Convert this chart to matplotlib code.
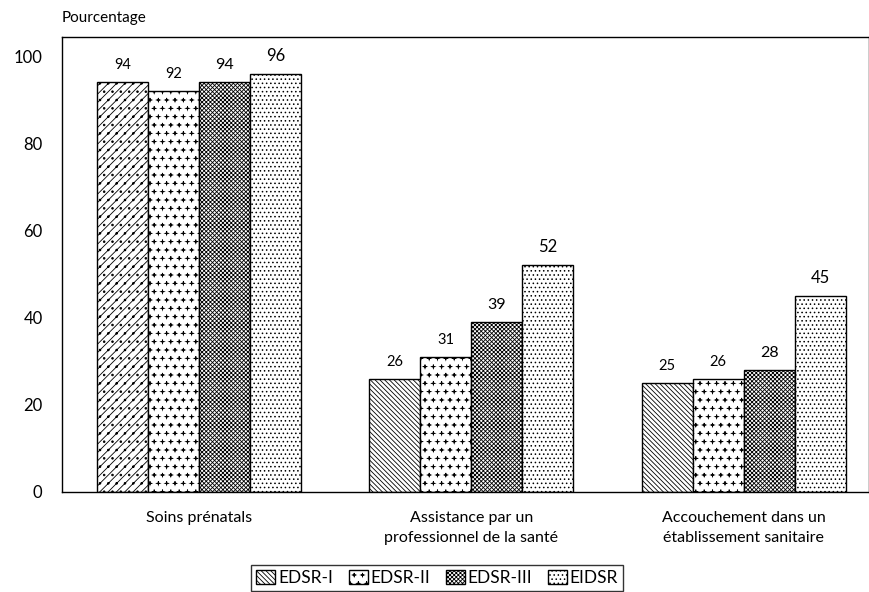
import matplotlib
matplotlib.use('Agg')
import matplotlib.pyplot as plt
import matplotlib.hatch as mhatch
from matplotlib.path import Path
import numpy as np

# Data
categories = ['Soins prénatals',
              'Assistance par un\nprofessionnel de la santé',
              'Accouchement dans un\nétablissement sanitaire']
series = ['EDSR-I', 'EDSR-II', 'EDSR-III', 'EIDSR']
edsr1 = [94, 26, 25]
edsr2 = [92, 31, 26]
edsr3 = [94, 39, 28]
eidsr = [96, 52, 45]
values = [edsr1, edsr2, edsr3, eidsr]


# small four-point crosses instead of the default big stars for '*'
class SmallCross(mhatch.Stars):
    size = 0.2

    def __init__(self, hatch, density):
        self.num_rows = hatch.count('*') * density
        path = Path.unit_regular_star(4, innerCircle=0.3)
        self.shape_vertices = path.vertices
        self.shape_codes = np.full(len(self.shape_vertices), Path.LINETO,
                                   dtype=Path.code_type)
        self.shape_codes[0] = Path.MOVETO
        mhatch.Shapes.__init__(self, hatch, density)


mhatch._hatch_types[mhatch._hatch_types.index(mhatch.Stars)] = SmallCross

plt.rcParams['font.family'] = ['Lato', 'DejaVu Sans']
plt.rcParams['hatch.linewidth'] = 0.6
plt.rcParams['hatch.color'] = 'black'

fig = plt.figure(figsize=(8.69, 5.92), dpi=100)
ax = fig.add_axes([62/869, 100/592, 1 - 62/869, (492 - 37)/592])

x = np.arange(len(categories))
width = 0.187
hatches = ['\\' * 7, '**', 'x' * 8, '....']
label_sizes = [10.5, 10.5, 11.5, 12]

bars = []
for i, (name, vals) in enumerate(zip(series, values)):
    pos = x + (i - 1.5) * width
    b = ax.bar(pos, vals, width, color='white', edgecolor='black',
               linewidth=1, hatch=hatches[i], label=name)
    bars.append(b)
    for p, v in zip(pos, vals):
        ax.text(p, v + 2.3, str(v), ha='center', va='bottom',
                fontsize=label_sizes[i])

# first group EDSR-I uses a different fill
bars[0][0].set_hatch('////..')

ax.set_xlim(-0.503, 2.46)
ax.set_ylim(0, 104.4)
ax.set_yticks([0, 20, 40, 60, 80, 100])
ax.tick_params(axis='y', length=0, pad=14, labelsize=12)
ax.tick_params(axis='x', length=0, pad=14, labelsize=11.5)
ax.set_xticks(x)
ax.set_xticklabels(categories, linespacing=1.5)
for s in ax.spines.values():
    s.set_linewidth(1)

fig.text(62/869, 1 - 18/592, 'Pourcentage', ha='left', va='center', fontsize=11)

fig.legend(handles=[b[1] for b in bars], labels=series, loc='center',
           bbox_to_anchor=(437/869, 1 - 578/592), ncol=4, fontsize=12.5,
           frameon=True, fancybox=False, edgecolor='black', handlelength=1.1,
           handleheight=0.9, handletextpad=0.15, columnspacing=0.9,
           borderpad=0.3)

plt.savefig('out.png', dpi=100, facecolor='white')
